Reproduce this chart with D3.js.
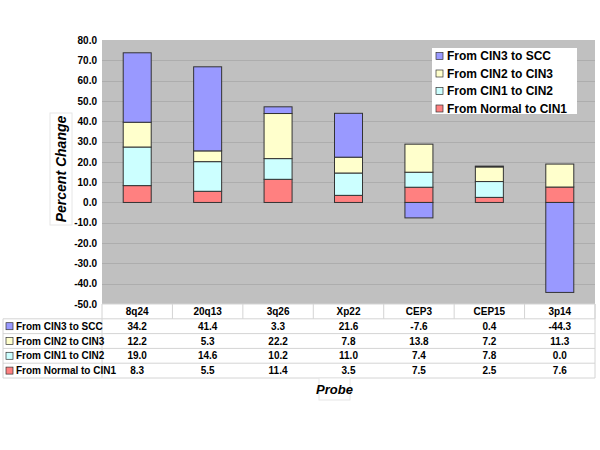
<!DOCTYPE html>
<html>
<head>
<meta charset="utf-8">
<script src="https://cdn.jsdelivr.net/npm/d3@7"></script>
<style>
  body { margin: 0; background: #fff; }
  svg { font-family: "Liberation Sans", Arial, sans-serif; }
</style>
</head>
<body>
<div id="chart"></div>
<script>
// values
const probes = ["8q24", "20q13", "3q26", "Xp22", "CEP3", "CEP15", "3p14"];
const seriesNames = ["From CIN3 to SCC", "From CIN2 to CIN3", "From CIN1 to CIN2", "From Normal to CIN1"];
const cin3ToScc = [34.2, 41.4, 3.3, 21.6, -7.6, 0.4, -44.3];
const cin2ToCin3 = [12.2, 5.3, 22.2, 7.8, 13.8, 7.2, 11.3];
const cin1ToCin2 = [19.0, 14.6, 10.2, 11.0, 7.4, 7.8, 0.0];
const normalToCin1 = [8.3, 5.5, 11.4, 3.5, 7.5, 2.5, 7.6];
const yTicks = [80, 70, 60, 50, 40, 30, 20, 10, 0, -10, -20, -30, -40, -50];

const seriesValues = [cin3ToScc, cin2ToCin3, cin1ToCin2, normalToCin1];
const colors = ["#9999ff", "#ffffcc", "#ccffff", "#ff8080"];

const width = 600, height = 450;
const plotLeft = 102, plotRight = 595, plotTop = 40, plotBottom = 304;
const tableLeft = 3, rowH = 14.8;

// plain hyphen for negatives, like the original
const fmt = d3.formatLocale({ decimal: ".", thousands: ",", grouping: [3], currency: ["$", ""], minus: "-" }).format(".1f");

const svg = d3.select("#chart").append("svg")
    .attr("width", width).attr("height", height);

// build rows for d3.stack, bottom series first
let rows = probes.map((p, i) => {
    let r = { probe: p };
    seriesNames.forEach((s, k) => r[s] = seriesValues[k][i]);
    return r;
});
let stackKeys = seriesNames.slice().reverse();
let stacked = d3.stack().keys(stackKeys).offset(d3.stackOffsetDiverging)(rows);

let x = d3.scaleBand().domain(probes).range([plotLeft, plotRight]);
let y = d3.scaleLinear().domain([-50, 80]).range([plotBottom, plotTop]);
let color = d3.scaleOrdinal().domain(seriesNames).range(colors);

// plot background
svg.append("rect")
    .attr("x", plotLeft).attr("y", plotTop)
    .attr("width", plotRight - plotLeft).attr("height", plotBottom - plotTop)
    .attr("fill", "#c0c0c0");

// gridlines
svg.append("g").selectAll("line").data(yTicks.filter(t => t !== 80 && t !== -50)).join("line")
    .attr("x1", plotLeft).attr("x2", plotRight)
    .attr("y1", d => Math.round(y(d)) + 0.5).attr("y2", d => Math.round(y(d)) + 0.5)
    .attr("stroke", "#adadad").attr("stroke-width", 1);

// y axis labels
let yAxis = d3.axisLeft(y).tickValues(yTicks).tickFormat(fmt).tickSize(0).tickPadding(5);
let yAxisGroup = svg.append("g").attr("transform", `translate(${plotLeft}, 0)`).call(yAxis);
yAxisGroup.select(".domain").remove();
yAxisGroup.selectAll("text")
    .attr("font-size", 10).attr("font-weight", "bold").attr("fill", "#000")
    .attr("font-family", "Liberation Sans, Arial, sans-serif");

// bars
let barWidth = 28;
svg.append("g").selectAll("g").data(stacked).join("g")
    .attr("fill", d => color(d.key))
    .selectAll("rect").data(d => d).join("rect")
    .attr("x", d => x(d.data.probe) + x.bandwidth() / 2 - barWidth / 2)
    .attr("y", d => y(Math.max(d[0], d[1])))
    .attr("width", barWidth)
    .attr("height", d => Math.abs(y(d[0]) - y(d[1])))
    .attr("stroke", "#333")
    .attr("stroke-width", 1);

// legend
let legend = svg.append("g");
legend.append("rect")
    .attr("x", 432).attr("y", 48).attr("width", 145).attr("height", 66)
    .attr("fill", "#fff");
let items = legend.selectAll("g").data(seriesNames).join("g")
    .attr("transform", (d, i) => `translate(436, ${56 + i * 17.5})`);
items.append("rect")
    .attr("x", 0).attr("y", -3.5).attr("width", 7).attr("height", 7)
    .attr("fill", d => color(d)).attr("stroke", "#333").attr("stroke-width", 0.7);
items.append("text")
    .attr("x", 11).attr("y", 0).attr("dy", "0.35em")
    .attr("font-size", 12).attr("font-weight", "bold")
    .text(d => d);

// data table
let table = svg.append("g");
let gridColor = "#d4d4d4";
let tableBottom = plotBottom + rowH * 5;
// horizontal rules
for (let r = 0; r <= 5; r++) {
    let yy = plotBottom + r * rowH;
    table.append("line")
        .attr("x1", r === 0 ? plotLeft : tableLeft).attr("x2", plotRight)
        .attr("y1", yy).attr("y2", yy)
        .attr("stroke", gridColor);
}
// column dividers in the header row
table.selectAll(".divider").data(probes.concat([null])).join("line")
    .attr("class", "divider")
    .attr("x1", (d, i) => plotLeft + i * x.bandwidth()).attr("x2", (d, i) => plotLeft + i * x.bandwidth())
    .attr("y1", plotBottom).attr("y2", plotBottom + rowH)
    .attr("stroke", gridColor);
table.append("line").attr("x1", tableLeft).attr("x2", tableLeft)
    .attr("y1", plotBottom + rowH).attr("y2", tableBottom).attr("stroke", gridColor);
table.append("line").attr("x1", plotRight).attr("x2", plotRight)
    .attr("y1", plotBottom).attr("y2", tableBottom).attr("stroke", gridColor);
table.append("line").attr("x1", plotLeft).attr("x2", plotLeft)
    .attr("y1", plotBottom + rowH).attr("y2", tableBottom).attr("stroke", gridColor);

// header labels
table.selectAll(".head").data(probes).join("text")
    .attr("class", "head")
    .attr("x", d => x(d) + x.bandwidth() / 2)
    .attr("y", plotBottom + rowH / 2 + 0.5).attr("dy", "0.35em")
    .attr("text-anchor", "middle").attr("font-size", 10).attr("font-weight", "bold")
    .text(d => d);

// row labels and values
seriesNames.forEach((name, k) => {
    let cy = plotBottom + rowH * (k + 1.5);
    table.append("rect")
        .attr("x", 6).attr("y", cy - 3.5).attr("width", 7).attr("height", 7)
        .attr("fill", color(name)).attr("stroke", "#333").attr("stroke-width", 0.7);
    table.append("text")
        .attr("x", 16).attr("y", cy).attr("dy", "0.35em")
        .attr("font-size", 10).attr("font-weight", "bold")
        .text(name);
    table.selectAll(".v" + k).data(seriesValues[k]).join("text")
        .attr("class", "v" + k)
        .attr("x", (d, i) => x(probes[i]) + x.bandwidth() / 2)
        .attr("y", cy).attr("dy", "0.35em")
        .attr("text-anchor", "middle").attr("font-size", 10).attr("font-weight", "bold")
        .text(d => fmt(d));
});

// axis titles
svg.append("rect").attr("x", 50).attr("y", 113).attr("width", 22).attr("height", 112)
    .attr("fill", "#fff").attr("stroke", "#e6e6e6");
svg.append("text")
    .attr("transform", "translate(66, 169) rotate(-90)")
    .attr("text-anchor", "middle")
    .attr("font-size", 14).attr("font-weight", "bold").attr("font-style", "italic")
    .text("Percent Change");

svg.append("rect").attr("x", 319).attr("y", 378).attr("width", 31).attr("height", 22)
    .attr("fill", "#fff").attr("stroke", "#e6e6e6");
svg.append("text")
    .attr("x", 334.5).attr("y", 389).attr("dy", "0.35em")
    .attr("text-anchor", "middle")
    .attr("font-size", 13).attr("font-weight", "bold").attr("font-style", "italic")
    .text("Probe");
</script>
</body>
</html>
